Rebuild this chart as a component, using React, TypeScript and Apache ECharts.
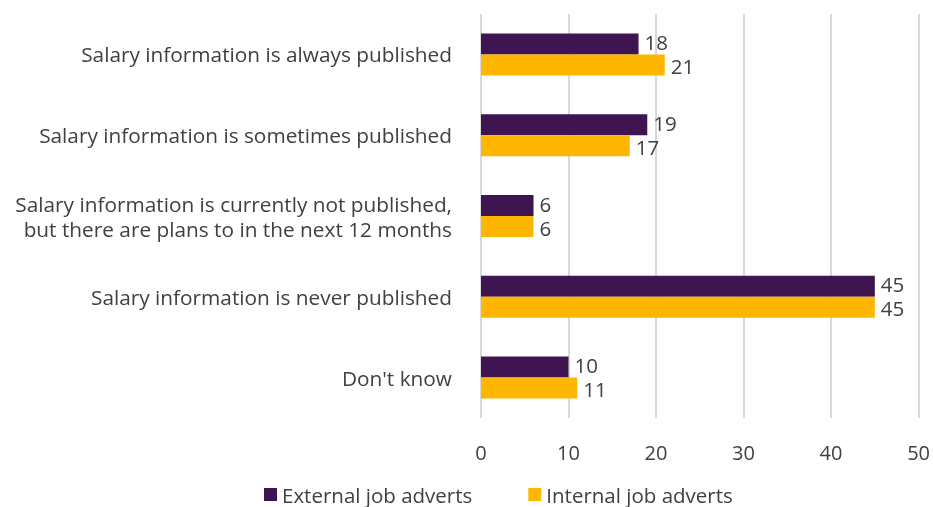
import React, { useEffect, useRef } from "react";
import * as echarts from "echarts";

const categories = [
  "Salary information is always published",
  "Salary information is sometimes published",
  "Salary information is currently not published,\nbut there are plans to in the next 12 months",
  "Salary information is never published",
  "Don't know",
];
const externalValues = [18, 19, 6, 45, 10];
const internalValues = [21, 17, 6, 45, 11];
const seriesNames = ["External job adverts", "Internal job adverts"];

const FONT = "'Open Sans', sans-serif";
const TEXT = "#404040";

export default function App() {
  const ref = useRef<HTMLDivElement>(null);
  useEffect(() => {
    if (!ref.current) return;
    const chart = echarts.init(ref.current, undefined, { renderer: "svg" });
    const label = {
      show: true,
      position: "right" as const,
      distance: 6,
      fontSize: 20.5,
      lineHeight: 20,
      color: TEXT,
      fontFamily: FONT,
    };
    chart.setOption({
      animation: false,
      textStyle: { fontFamily: FONT },
      grid: { left: 481, right: 13, top: 14, bottom: 89, containLabel: false },
      legend: {
        top: 484,
        left: 264,
        padding: 0,
        itemWidth: 13,
        itemHeight: 13,
        itemGap: 56,
        icon: "rect",
        textStyle: { fontSize: 20.5, color: TEXT, fontFamily: FONT, lineHeight: 20 },
        data: seriesNames,
      },
      xAxis: {
        type: "value",
        min: 0,
        max: 50,
        interval: 10,
        axisLine: { show: false },
        axisTick: { show: false },
        splitLine: { lineStyle: { color: "#d9d9d9", width: 2 } },
        axisLabel: { fontSize: 20, color: TEXT, margin: 24, fontFamily: FONT },
      },
      yAxis: {
        type: "category",
        inverse: true,
        data: categories,
        axisLine: { show: false },
        axisTick: { show: false },
        axisLabel: {
          fontSize: 20.8,
          color: TEXT,
          margin: 29,
          lineHeight: 25,
          align: "right",
          fontFamily: FONT,
        },
      },
      series: [
        {
          name: seriesNames[0],
          type: "bar",
          data: externalValues,
          barWidth: 21,
          barGap: "0%",
          itemStyle: { color: "#3e1451" },
          label: { ...label, offset: [0, -2] },
        },
        {
          name: seriesNames[1],
          type: "bar",
          data: internalValues,
          barWidth: 21,
          barGap: "0%",
          itemStyle: { color: "#ffb600" },
          label: { ...label, offset: [0, 1] },
        },
      ],
    });
    return () => chart.dispose();
  }, []);
  return (
    <div
      ref={ref}
      style={{ position: "fixed", left: 0, top: 0, width: 933, height: 507 }}
    />
  );
}
